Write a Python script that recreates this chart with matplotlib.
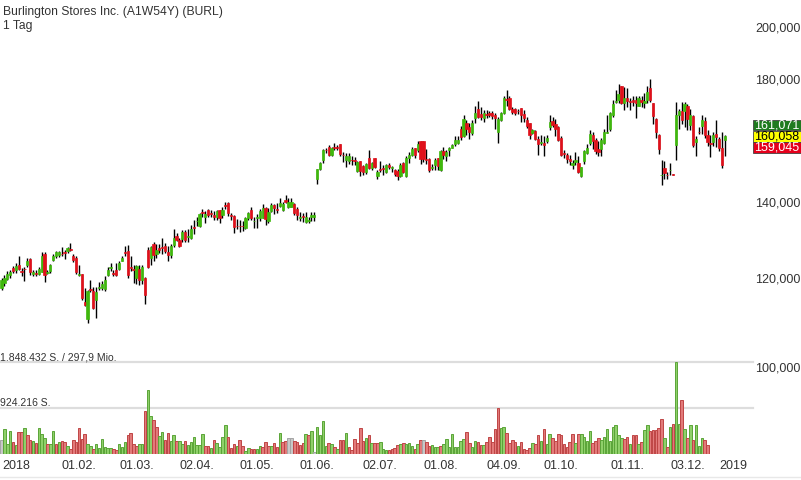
import matplotlib
matplotlib.use("Agg")
import matplotlib.pyplot as plt
from matplotlib.patches import Rectangle
from matplotlib.ticker import FixedLocator, FuncFormatter, NullLocator

plt.rcParams['font.family'] = ['Liberation Sans', 'DejaVu Sans']

title = "Burlington Stores Inc. (A1W54Y) (BURL)"
interval = "1 Tag"

# daily candles (price units)
opens = [
    117.5, 118.6, 119.7, 120.6, 122.4, 121.9, 123.0, 121.7, 122.1, 123.1,
    124.6, 120.9, 121.2, 121.0, 121.4, 125.9, 121.2, 121.6, 124.4, 125.5,
    125.6, 126.0, 126.3, 126.6, 127.2, 125.3, 124.9, 120.7, 120.8, 114.2,
    110.3, 117.2, 116.8, 114.6, 117.5, 117.5, 117.3, 120.6, 122.4, 121.2,
    121.9, 122.2, 124.2, 126.3, 126.7, 122.6, 122.0, 120.0, 122.1, 119.5,
    120.0, 126.9, 124.8, 128.5, 125.8, 127.5, 127.6, 128.0, 126.4, 125.6,
    128.2, 130.5, 129.6, 129.8, 131.6, 130.4, 130.2, 133.0, 134.6, 133.2,
    137.2, 135.7, 137.7, 136.9, 136.3, 135.9, 137.7, 136.3, 139.1, 139.7,
    136.3, 136.0, 133.4, 133.4, 133.4, 132.8, 135.4, 137.7, 134.6, 135.6,
    135.4, 135.6, 138.3, 134.6, 137.5, 139.0, 138.0, 138.9, 137.7, 140.6,
    138.5, 138.7, 139.4, 138.0, 135.5, 136.0, 134.4, 134.8, 135.9, 135.9,
    146.8, 149.8, 152.5, 155.7, 156.7, 154.1, 156.6, 156.6, 157.7, 154.2,
    152.5, 152.2, 152.6, 152.4, 149.0, 152.1, 150.6, 148.7, 153.1, 150.0,
    153.0, 147.7, 149.7, 150.0, 148.9, 151.0, 150.1, 149.4, 149.2, 147.7,
    151.7, 147.6, 153.2, 154.1, 156.2, 155.6, 158.4, 158.4, 152.8, 152.7,
    150.1, 151.0, 153.1, 149.4, 155.3, 153.6, 155.6, 156.4, 157.5, 157.8,
    162.3, 160.3, 164.6, 163.2, 161.2, 166.2, 169.1, 167.4, 166.1, 167.5,
    167.8, 167.8, 167.2, 161.4, 165.5, 167.8, 172.6, 173.1, 169.1, 169.1,
    168.6, 169.4, 167.5, 165.5, 164.4, 161.1, 161.9, 159.3, 157.9,
    157.9, 158.5, 163.2, 165.2, 164.0, 163.2, 159.5, 154.6, 154.1, 152.9, 151.1,
    151.8, 151.7, 147.6, 152.3, 154.8, 157.9, 160.5, 158.8, 155.9, 155.9,
    157.9, 161.2, 162.4, 167.1, 171.7, 172.3, 177.3, 171.2, 173.1, 172.0,
    172.3, 172.3, 170.3, 172.3, 171.4, 172.3, 176.7, 171.2, 165.7, 160.5,
    147.8, 150.1, 148.0, 149.3, 148.2,
    157.2, 167.2, 168.4, 168.4, 170.2, 163.8, 166.9, 158.3, 161.5, 163.6,
    165.2, 160.5, 157.8, 158.2, 160.8, 159.1, 156.4, 159.0,
]
highs = [
    120.0, 120.6, 121.5, 121.8, 122.8, 123.6, 125.5, 122.3, 122.6, 124.8,
    124.8, 121.9, 121.9, 122.6, 126.4, 126.4, 121.9, 123.4, 125.9, 126.6,
    126.6, 127.6, 127.0, 127.8, 128.7, 125.8, 125.3, 123.1, 121.0, 117.4,
    117.0, 119.4, 117.6, 117.6, 118.9, 119.2, 120.5, 122.7, 123.6, 121.9,
    123.6, 124.0, 125.4, 128.1, 128.2, 125.3, 123.1, 123.1, 123.1, 123.1,
    120.1, 127.7, 128.0, 129.0, 128.5, 128.5, 130.2, 128.7, 128.0, 128.4,
    132.5, 131.4, 130.0, 132.3, 132.3, 132.6, 133.5, 134.9, 135.9, 137.0,
    138.0, 137.5, 138.0, 137.7, 137.5, 137.7, 137.7, 138.5, 140.0, 140.1,
    136.9, 136.3, 135.3, 135.0, 134.8, 135.9, 137.3, 138.5, 135.9, 136.7,
    138.0, 139.5, 138.6, 138.2, 139.6, 139.3, 139.6, 141.1, 140.1, 142.1,
    141.1, 141.1, 139.8, 138.7, 137.2, 136.9, 137.2, 135.9, 137.2, 137.2,
    149.6, 151.8, 156.0, 156.2, 157.2, 156.7, 157.9, 157.2, 157.7, 154.9,
    154.6, 154.6, 153.6, 153.4, 152.1, 152.1, 151.0, 151.7, 155.5, 151.9,
    153.0, 149.3, 152.2, 151.0, 151.4, 151.7, 150.8, 149.6, 149.6, 151.5,
    151.8, 153.6, 154.9, 156.7, 156.4, 158.4, 158.4, 158.4, 156.0, 153.1,
    151.4, 153.1, 153.1, 155.6, 156.6, 155.6, 156.6, 157.6, 160.1, 160.3,
    163.3, 167.2, 165.6, 164.4, 165.6, 170.4, 171.9, 169.8, 168.8, 168.8,
    168.4, 168.6, 167.8, 166.6, 168.3, 173.6, 175.8, 173.6, 169.8, 169.4,
    169.3, 169.4, 169.0, 166.4, 164.6, 162.3, 162.0, 160.3, 160.6,
    160.3, 160.6, 167.2, 166.5, 165.8, 163.5, 160.2, 155.7, 154.6, 154.0, 152.5,
    155.1, 153.8, 150.4, 155.8, 157.5, 162.0, 161.5, 159.5, 158.5, 159.5,
    162.5, 167.2, 168.3, 172.2, 176.0, 178.2, 177.3, 177.0, 176.5, 173.1,
    173.8, 173.8, 173.8, 173.8, 174.8, 177.4, 180.0, 171.2, 166.2, 160.8,
    152.6, 152.2, 148.7, 151.5, 148.2,
    171.6, 169.3, 171.6, 171.6, 171.1, 169.2, 167.2, 160.2, 163.0, 167.2,
    166.5, 162.2, 160.5, 161.5, 165.5, 159.8, 161.5, 160.4,
]
lows = [
    117.0, 118.0, 119.3, 120.0, 121.2, 121.1, 121.9, 120.4, 119.2, 122.6,
    120.6, 120.4, 120.4, 120.6, 121.3, 119.0, 120.9, 121.1, 124.0, 124.8,
    125.2, 125.3, 124.7, 126.2, 126.8, 123.8, 121.0, 120.3, 114.6, 113.3,
    109.3, 116.6, 112.5, 110.4, 117.0, 117.0, 116.8, 120.4, 121.5, 120.5,
    120.4, 121.9, 124.0, 125.3, 120.0, 121.7, 118.7, 118.4, 118.2, 118.4,
    113.8, 122.4, 123.1, 124.2, 124.8, 126.2, 125.9, 126.2, 124.2, 125.0,
    127.8, 129.3, 127.6, 129.1, 129.1, 129.1, 129.8, 131.2, 133.4, 133.0,
    135.9, 134.1, 135.9, 135.8, 135.0, 135.0, 134.1, 135.4, 138.1, 136.0,
    134.9, 131.5, 132.5, 131.6, 132.0, 132.6, 135.0, 135.0, 132.8, 132.8,
    134.6, 135.4, 133.5, 134.2, 137.2, 136.6, 136.8, 138.5, 137.5, 139.7,
    138.2, 138.5, 136.3, 135.0, 134.6, 134.4, 134.1, 134.1, 134.6, 134.6,
    145.1, 149.4, 151.5, 154.6, 153.6, 153.6, 155.6, 155.6, 153.8, 152.0,
    150.4, 151.2, 150.9, 151.0, 148.8, 147.6, 147.8, 148.2, 149.8, 149.5,
    150.0, 146.8, 148.8, 147.8, 148.6, 149.6, 148.9, 147.6, 146.3, 147.4,
    148.6, 147.4, 151.6, 153.6, 153.1, 155.1, 151.3, 152.0, 151.3, 148.9,
    149.4, 149.4, 149.4, 149.1, 152.7, 152.1, 153.9, 156.2, 156.9, 157.5,
    158.8, 159.9, 160.6, 159.1, 160.6, 164.4, 166.3, 165.6, 164.9, 166.2,
    166.6, 165.8, 162.6, 157.9, 165.2, 167.4, 170.2, 169.0, 167.6, 167.0,
    167.4, 164.9, 164.9, 162.9, 159.1, 160.7, 158.8, 154.2, 157.2,
    153.8, 157.9, 162.2, 163.0, 160.3, 158.6, 153.8, 153.0, 151.7, 151.0, 149.6,
    150.9, 148.6, 147.4, 151.3, 154.4, 157.1, 155.9, 154.4, 153.8, 153.8,
    157.6, 161.0, 161.9, 166.6, 171.3, 171.3, 171.0, 169.0, 170.0, 169.0,
    170.3, 166.0, 170.2, 169.9, 169.4, 171.2, 171.7, 164.0, 159.6, 154.4,
    144.9, 146.6, 146.6, 147.9, 148.0,
    152.5, 162.6, 164.1, 163.2, 162.0, 162.1, 156.6, 153.8, 160.7, 160.9,
    159.6, 156.9, 153.5, 156.9, 156.7, 155.2, 149.9, 153.8,
]
closes = [
    119.4, 120.0, 120.9, 121.4, 121.5, 122.9, 122.1, 121.3, 122.0, 124.2,
    121.4, 121.3, 121.0, 122.2, 125.5, 120.6, 121.4, 123.1, 125.4, 126.3,
    126.3, 125.8, 126.1, 127.4, 127.0, 124.4, 121.4, 121.0, 115.0, 113.5,
    116.8, 117.1, 112.8, 116.6, 117.7, 118.5, 119.5, 121.9, 122.6, 121.0,
    120.6, 123.5, 124.8, 126.1, 120.6, 122.4, 121.8, 122.9, 119.5, 122.6,
    115.8, 122.7, 127.6, 125.6, 126.9, 126.9, 127.4, 126.7, 125.7, 128.0,
    130.0, 129.6, 127.9, 131.8, 129.6, 130.6, 132.6, 132.8, 134.8, 136.6,
    136.8, 136.5, 136.2, 136.7, 135.9, 137.5, 135.4, 137.7, 138.9, 136.8,
    136.1, 133.1, 133.2, 133.2, 133.2, 135.4, 137.0, 135.4, 134.8, 135.8,
    137.5, 138.3, 135.1, 137.3, 139.1, 138.3, 137.8, 139.7, 139.4, 140.0,
    140.0, 140.0, 136.9, 136.2, 135.7, 135.8, 135.7, 135.0, 136.3, 136.3,
    149.6, 151.5, 155.6, 155.5, 154.0, 156.2, 156.4, 156.4, 154.3, 154.0,
    153.8, 153.8, 152.4, 152.2, 151.8, 149.0, 148.9, 151.2, 150.1, 151.6,
    150.3, 148.9, 149.5, 149.8, 151.0, 150.4, 150.3, 148.2, 147.6, 151.0,
    148.9, 153.1, 154.1, 155.9, 154.1, 157.7, 152.7, 152.7, 152.6, 149.4,
    150.3, 152.5, 150.8, 155.3, 154.1, 155.1, 156.2, 157.2, 158.8, 159.0,
    159.9, 165.8, 162.3, 161.6, 164.6, 167.8, 166.6, 166.4, 168.0, 167.3,
    167.2, 166.9, 166.2, 165.8, 167.8, 173.2, 172.4, 169.2, 168.1, 167.8,
    168.4, 167.2, 166.1, 163.6, 160.5, 162.0, 159.1, 157.6, 158.1,
    157.4, 159.6, 164.9, 163.8, 162.4, 158.8, 154.2, 154.4, 152.7, 152.3, 151.7,
    152.6, 148.9, 150.4, 155.3, 156.4, 160.8, 158.4, 155.3, 155.1, 158.8,
    161.4, 161.4, 167.8, 171.1, 171.9, 174.6, 171.2, 173.1, 171.9, 171.8,
    171.6, 171.2, 172.9, 171.7, 172.1, 175.2, 172.3, 166.8, 161.6, 155.9,
    148.0, 148.4, 147.8, 149.5, 148.0,
    167.1, 168.4, 165.5, 171.1, 165.8, 167.2, 157.2, 159.1, 161.3, 165.5,
    160.5, 158.1, 157.6, 160.5, 159.7, 156.2, 151.0, 160.058,
]

# volume in thousand shares, last days without volume
volumes_k = [
    285, 506, 205, 458, 237, 171, 438, 438, 526, 372, 285, 271, 225, 526, 406,
    325, 191, 205, 472, 205, 237, 271, 237, 151, 104, 285, 251, 526, 305, 392,
    191, 151, 104, 205, 125, 298, 137, 125, 125, 104, 84, 191, 137, 251, 372,
    418, 205, 151, 191, 205, 854, 1276, 773, 693, 539, 352, 438, 285, 418, 271,
    372, 258, 271, 191, 271,
    171, 237, 338, 171, 171, 392, 151, 151, 125, 285, 218, 137, 338, 573, 338,
    125, 205, 151, 285, 151, 70, 125, 104, 104, 104, 151, 137, 237, 151, 151,
    218, 137, 418, 251, 258, 325, 325, 271, 237, 171,
    225, 406, 385, 458, 50, 552, 385, 659, 151, 225, 205, 131, 104, 291, 291,
    418, 137, 90, 311, 231, 526, 271, 325, 385, 231, 225, 218, 245, 104, 84,
    84, 104, 117, 171, 205, 231, 205, 231, 157, 104, 205, 285, 285, 245, 157,
    185, 131, 131, 157, 205, 298, 144, 398, 131, 131, 271, 311, 452, 231, 144,
    271, 245, 185, 171, 251, 345, 251, 499, 934, 526, 552, 426, 218, 285, 251,
    151,
    237, 104, 84, 125, 218, 205, 372, 271, 506, 205, 392, 325, 271, 392, 385,
    205, 137, 237, 406, 218, 406, 392, 338, 258, 458, 231, 271, 325, 285, 338,
    506, 258, 552, 573, 385, 325, 305, 345, 191, 385, 385, 205, 251, 492, 586,
    458, 486, 492, 526, 706, 318, 137, 552, 606, 1848.432, 606, 1089, 506, 325, 586,
    285, 586, 151, 318, 291, 185,
    0, 0, 0, 0, 0, 0,
]
# g = up, r = down, n = unchanged
vol_dir = ("ngggrgrrgrrgrgggrggrgrrgrrrrrrggrggggggrrgggrrrrggrggrrggrrggrggr"
           "ggggggrrgrggggrrrgrrggrrggrrrgrrgrrnnrrr"
           "rgrgnggggrgrgrrgrrrrrrgrgrrgggrrrrgrgggrgrnrrgggrggggggggrrggrrgrrrrrggrrrrg"
           "rrrrgrrgrggrrrrrrrrgrggggrrrggggggggrrgrrgrggrrrrrgrgrggrgrgrgggrr"
           "nnnnnn")

tick_idx = [5, 27, 47, 68, 89, 110, 132, 153, 175, 195, 218, 239, 255]
tick_labels = ["2018", "01.02.", "01.03.", "02.04.", "01.05.", "01.06.", "02.07.",
               "01.08.", "04.09.", "01.10.", "01.11.", "03.12.", "2019"]
# 160,000 sits behind the quote boxes
price_ticks = [100, 120, 140, 180, 200]
quotes = [161.071, 160.058, 159.045]
vol_max = 1848432
turnover = "297,9 Mio."

W, H = 801, 480
fig = plt.figure(figsize=(W / 100, H / 100), dpi=100)
plot_w = 753
bottom_px = 454
ax = fig.add_axes([0, (H - bottom_px) / H, plot_w / W, bottom_px / H])
axv = fig.add_axes([0, (H - bottom_px) / H, plot_w / W, 92 / H], sharex=ax)
for a in (ax, axv):
    a.set_facecolor('none')
    for s in a.spines.values():
        s.set_visible(False)

step = 2.87
ax.set_xlim(-1.5 / step, (plot_w - 1.5) / step)

green, red = '#3fb80c', '#e0101a'
xs = list(range(len(closes)))
cols = [green if c >= o else red for o, c in zip(opens, closes)]
ax.vlines(xs, lows, highs, color='black', lw=1.0, zorder=2)
ax.bar(xs, [abs(c - o) for o, c in zip(opens, closes)],
       bottom=[min(o, c) for o, c in zip(opens, closes)],
       width=0.8, color=cols, edgecolor=cols, lw=0.5, zorder=3)

ax.set_yscale('log')
ax.set_ylim(83.75, 211.32)
ax.yaxis.tick_right()
ax.yaxis.set_major_locator(FixedLocator(price_ticks))
ax.yaxis.set_minor_locator(NullLocator())
ax.yaxis.set_major_formatter(FuncFormatter(lambda v, _: f"{v:.3f}".replace('.', ',')))
ax.tick_params(axis='y', length=0, pad=1.5, labelsize=9, labelcolor='#333333')
ax.tick_params(axis='x', bottom=False, labelbottom=False)

# volume pane
vfill = {'g': '#8fd06a', 'r': '#e27a7a', 'n': '#c8c8c8'}
vedge = {'g': '#5aa438', 'r': '#bf4545', 'n': '#a5a5a5'}
vols = [v * 1000 for v in volumes_k]
axv.bar(xs, vols, width=0.88, color=[vfill[d] for d in vol_dir],
        edgecolor=[vedge[d] for d in vol_dir], lw=0.7, zorder=2)
axv.set_ylim(0, vol_max)
axv.set_yticks([])
for lvl in (vol_max, vol_max / 2):
    axv.axhline(lvl, color='#dddddd', lw=1.6, zorder=1, clip_on=False)
axv.set_xticks(tick_idx)
axv.set_xticklabels(tick_labels)
axv.tick_params(axis='x', length=0, pad=4, labelsize=9, labelcolor='#333333')

fmt_de = lambda n: f"{int(round(n)):,}".replace(',', '.')
fig.text(0.5 / W, 1 - 360 / H, f"{fmt_de(vol_max)} S. / {turnover}",
         fontsize=7.5, color='#333333', va='baseline')
fig.text(0.5 / W, 1 - 406 / H, f"{fmt_de(vol_max / 2)} S.",
         fontsize=7.5, color='#333333', va='baseline')

fig.text(3 / W, 1 - 15 / H, title, fontsize=8.7, color='#333333', va='baseline')
fig.text(3 / W, 1 - 29.5 / H, interval, fontsize=8.7, color='#333333', va='baseline')

# quote boxes on the right axis
yc = ax.transData.transform((0, quotes[1]))[1]
box_h = 10.6
styles = [('#1f7a1f', 'white'), ('#ffff00', 'black'), ('#e5001c', 'white')]
for k, (q, (fc, tc)) in enumerate(zip(quotes, styles)):
    y = yc + (1 - k) * (box_h + 0.6)
    fig.add_artist(Rectangle((plot_w / W, (y - box_h / 2) / H), (W - plot_w - 0.5) / W,
                             box_h / H, transform=fig.transFigure,
                             facecolor=fc, edgecolor='#444444', lw=0.6, zorder=5))
    fig.text((plot_w + (W - plot_w) / 2) / W, y / H, f"{q:.3f}".replace('.', ','),
             fontsize=9, color=tc, va='center', ha='center', zorder=6)

fig.add_artist(plt.Line2D([0, 1], [1 - 477 / H] * 2, color='#e8e8e8', lw=1,
                          transform=fig.transFigure))

fig.savefig('out.png', dpi=100)
